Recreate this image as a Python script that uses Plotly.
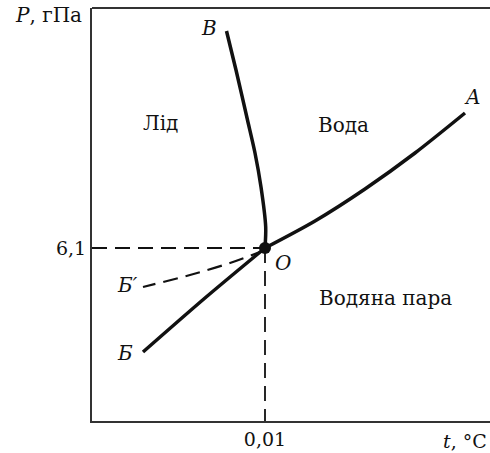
import plotly.graph_objects as go

# Schematic phase diagram of water near the triple point (arbitrary scale units)
triple_t = 0.01
triple_p = 6.1

# Vaporisation curve O-A
oa_t = [0.01, 5.01, 10.01, 15.01, 20.01]
oa_p = [6.1, 8.8, 12.0, 15.6, 19.6]

# Sublimation curve O-Б
ob_t = [0.01, -5.99, -12.19]
ob_p = [6.1, 1.1, -4.3]

# Supercooled water curve O-Б'
obs_t = [0.01, -3.49, -7.49, -12.19]
obs_p = [5.9, 4.6, 3.4, 2.2]

# Melting curve O-В
ov_t = [0.01, 0.08, -0.39, -0.99, -1.74, -2.89, -3.84]
ov_p = [6.1, 8.2, 12.2, 15.6, 18.9, 23.9, 27.8]

x_range = [-17.29, 22.51]
y_range = [-11.2, 30.1]

FONT = "DejaVu Serif"
INK = "#111111"

fig = go.Figure()

fig.add_trace(go.Scatter(x=[x_range[0], triple_t], y=[triple_p, triple_p], mode="lines",
                         line=dict(color=INK, width=1.8, dash="15px,8px"), hoverinfo="skip"))
fig.add_trace(go.Scatter(x=[triple_t, triple_t], y=[triple_p, y_range[0]], mode="lines",
                         line=dict(color=INK, width=1.8, dash="15px,8px"), hoverinfo="skip"))
fig.add_trace(go.Scatter(x=obs_t, y=obs_p, mode="lines", line_shape="spline",
                         line=dict(color=INK, width=2.2, dash="15px,8px"), hoverinfo="skip"))
for xs, ys in [(oa_t, oa_p), (ob_t, ob_p), (ov_t, ov_p)]:
    fig.add_trace(go.Scatter(x=xs, y=ys, mode="lines", line_shape="spline",
                             line=dict(color=INK, width=3.5, smoothing=0.8), hoverinfo="skip"))
fig.add_trace(go.Scatter(x=[triple_t], y=[triple_p], mode="markers",
                         marker=dict(color=INK, size=12), hoverinfo="skip"))

def label(x, y, text, size=20, italic=False, xanchor="center"):
    fig.add_annotation(x=x, y=y, text=f"<i>{text}</i>" if italic else text,
                       showarrow=False, xanchor=xanchor, yanchor="middle",
                       font=dict(family=FONT, size=size, color=INK))

label(-10.49, 18.6, "Лід", size=20)
label(7.81, 18.4, "Вода", size=20)
label(12.01, 1.1, "Водяна пара", size=20)
label(20.71, 21.2, "A", italic=True)
label(-5.59, 28.1, "B", italic=True)
label(1.81, 4.6, "O", italic=True)
label(-12.49, 2.4, "Б′", italic=True, xanchor="right")
label(-12.99, -4.4, "Б", italic=True, xanchor="right")

fig.add_annotation(xref="paper", yref="paper", x=-0.02, y=0.984, text="<i>P</i>, гПа",
                   showarrow=False, xanchor="right", yanchor="middle",
                   font=dict(family=FONT, size=20, color=INK))
fig.add_annotation(xref="paper", yref="paper", x=0.997, y=-0.016, text="<i>t</i>, °C",
                   showarrow=False, xanchor="right", yanchor="top",
                   font=dict(family=FONT, size=19, color=INK))

# top border of the frame
fig.add_shape(type="line", xref="paper", yref="paper", x0=0, x1=1, y0=1, y1=1,
              line=dict(color="#333333", width=2))

fig.update_layout(
    width=490, height=453,
    margin=dict(l=92, r=0, t=8, b=32),
    paper_bgcolor="white", plot_bgcolor="white",
    showlegend=False,
    xaxis=dict(range=x_range, showgrid=False, zeroline=False, showline=True,
               linecolor="#333333", linewidth=2, ticks="",
               tickvals=[triple_t], ticktext=["0,01"],
               tickfont=dict(family=FONT, size=19, color=INK)),
    yaxis=dict(range=y_range, showgrid=False, zeroline=False, showline=True,
               linecolor="#333333", linewidth=2, ticks="",
               tickvals=[triple_p], ticktext=["6,1"],
               tickfont=dict(family=FONT, size=19, color=INK)),
)

fig.write_html("out.html")
